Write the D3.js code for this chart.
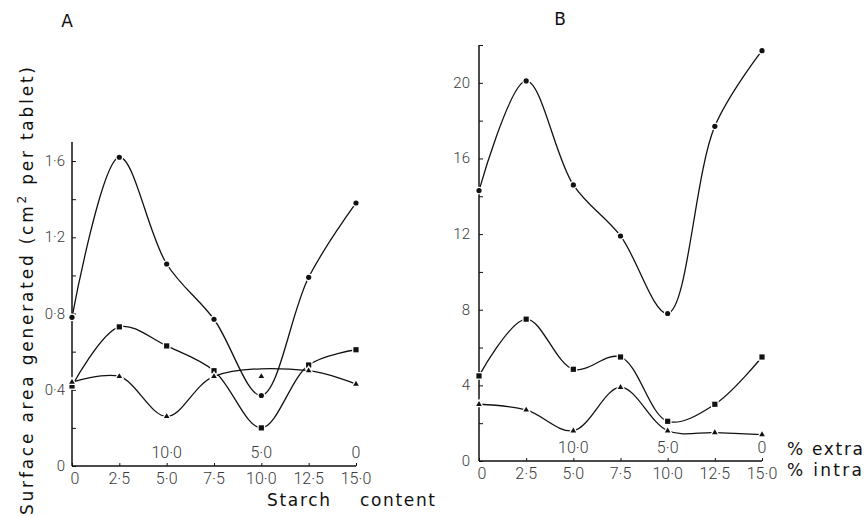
<!DOCTYPE html>
<html><head><meta charset="utf-8">
<script src="https://cdn.jsdelivr.net/npm/d3@7"></script>
<style>
body{margin:0;background:#fff;}
svg{display:block;}
.tick-label{font-family:Roboto,"DejaVu Sans",sans-serif;font-weight:300;fill:#3a3a3a;}
.title{font-family:"DejaVu Sans",sans-serif;font-size:17px;fill:#111;}
.axis-title{font-family:"DejaVu Sans",sans-serif;font-size:17px;fill:#111;}
</style></head>
<body>
<script>
// ---- data ----
const starchIntra = [0, 2.5, 5, 7.5, 10, 12.5, 15];
const extraLabels = [{x: 5, label: "10·0"}, {x: 10, label: "5·0"}, {x: 15, label: "0"}];
const xTickLabels = ["0", "2·5", "5·0", "7·5", "10·0", "12·5", "15·0"];

const A_circles   = [0.78, 1.62, 1.06, 0.77, 0.37, 0.99, 1.38];
const A_squares   = [0.42, 0.73, 0.63, 0.50, 0.20, 0.53, 0.61];
const A_triangles = [0.44, 0.47, 0.26, 0.47, 0.47, 0.50, 0.43];
// the drawn curve for A triangles passes above the point at 10·0
const A_triangleOffCurve = [4];
const A_yTicks = [0, 0.4, 0.8, 1.2, 1.6];
const A_yTickLabels = ["0", "0·4", "0·8", "1·2", "1·6"];
const A_yMinor = [0.2, 0.6, 1.0, 1.4];

const B_circles   = [14.3, 20.1, 14.6, 11.9, 7.8, 17.7, 21.7];
const B_squares   = [4.5, 7.5, 4.85, 5.5, 2.1, 3.0, 5.5];
const B_triangles = [3.0, 2.7, 1.6, 3.9, 1.6, 1.5, 1.4];
const B_yTicks = [0, 4, 8, 12, 16, 20];
const B_yTickLabels = ["0", "4", "8", "12", "16", "20"];
const B_yMinor = [2, 6, 10, 14, 18, 22];

const W = 865, H = 516;
const svg = d3.select("body").append("svg").attr("width", W).attr("height", H);

function panel(cfg) {
  const x = d3.scaleLinear().domain([0, 15]).range(cfg.xRange);
  const y = d3.scaleLinear().domain(cfg.yDomain).range(cfg.yRange);
  const g = svg.append("g");

  // y axis (ticks inward)
  const yAxis = d3.axisRight(y).tickValues(cfg.yTicks.concat(cfg.yMinor)).tickSize(4).tickFormat("");
  const ya = g.append("g").attr("transform", `translate(${x(0)},0)`).call(yAxis);
  ya.select(".domain").attr("d", `M0,${y(cfg.yDomain[1])}V${y(0)}`).attr("stroke", "#111").attr("stroke-width", 1.5);
  ya.selectAll(".tick line").attr("stroke", "#111").attr("stroke-width", 1);
  g.selectAll(".ylab").data(cfg.yTicks).join("text")
    .attr("class", "tick-label").attr("font-size", 15)
    .attr("x", x(0) - cfg.yLabelGap).attr("y", d => y(d) + 5)
    .attr("text-anchor", "end")
    .text((d, i) => cfg.yTickLabels[i]);

  // x axis (ticks inward)
  const xAxis = d3.axisTop(x).tickValues(starchIntra).tickSize(3).tickFormat("");
  const xa = g.append("g").attr("transform", `translate(0,${y(0)})`).call(xAxis);
  xa.select(".domain").attr("d", `M${x(0)},0H${x(15)}`).attr("stroke", "#111").attr("stroke-width", 1.5);
  xa.selectAll(".tick line").attr("stroke", "#111");
  g.selectAll(".xlab").data(starchIntra).join("text")
    .attr("class", "tick-label").attr("font-size", 16)
    .attr("x", d => x(d) + (d === 0 ? 3 : 0)).attr("y", y(0) + 18)
    .attr("text-anchor", "middle")
    .text((d, i) => xTickLabels[i]);
  g.selectAll(".xlab2").data(extraLabels).join("text")
    .attr("class", "tick-label").attr("font-size", 16)
    .attr("x", d => x(d.x)).attr("y", y(0) - 8)
    .attr("text-anchor", "middle")
    .text(d => d.label);

  const line = d3.line().x(d => x(d[0])).y(d => y(d[1])).curve(d3.curveCatmullRom.alpha(0.5));
  [[cfg.circles, []], [cfg.squares, []], [cfg.triangles, cfg.triOff || []]].forEach(([s, off]) => {
    const pts = s.map((v, i) => [starchIntra[i], v]).filter((p, i) => !off.includes(i));
    g.append("path").attr("d", line(pts)).attr("fill", "none").attr("stroke", "#111").attr("stroke-width", 1.3);
  });
  function applyHalo(sel) { return sel.attr("stroke", "#fff").attr("stroke-width", 2.5).attr("paint-order", "stroke"); }
  applyHalo(g.selectAll(".c").data(cfg.circles).join("circle")
    .attr("cx", (d, i) => x(starchIntra[i])).attr("cy", d => y(d)).attr("r", 2.6).attr("fill", "#111"));
  applyHalo(g.selectAll(".s").data(cfg.squares).join("rect")
    .attr("x", (d, i) => x(starchIntra[i]) - 2.6).attr("y", d => y(d) - 2.6)
    .attr("width", 5.2).attr("height", 5.2).attr("fill", "#111"));
  applyHalo(g.selectAll(".t").data(cfg.triangles).join("path")
    .attr("d", d3.symbol().type(d3.symbolTriangle).size(14))
    .attr("transform", (d, i) => `translate(${x(starchIntra[i])},${y(d)})`).attr("fill", "#111"));

  svg.append("text").attr("class", "title").attr("x", cfg.titlePos[0]).attr("y", cfg.titlePos[1])
    .attr("text-anchor", "middle").text(cfg.title);
  return {x, y};
}

panel({
  title: "A", titlePos: [67, 27],
  xRange: [72, 356], yDomain: [0, 1.7], yRange: [466, 142],
  yTicks: A_yTicks, yTickLabels: A_yTickLabels, yMinor: A_yMinor, yLabelGap: 7,
  circles: A_circles, squares: A_squares, triangles: A_triangles, triOff: A_triangleOffCurve
});
panel({
  title: "B", titlePos: [560, 25],
  xRange: [479, 762], yDomain: [0, 22], yRange: [461, 45],
  yTicks: B_yTicks, yTickLabels: B_yTickLabels, yMinor: B_yMinor, yLabelGap: 9,
  circles: B_circles, squares: B_squares, triangles: B_triangles
});

// axis titles
const yt = svg.append("text").attr("class", "axis-title").attr("font-size", 18)
  .attr("transform", "translate(33,515) rotate(-90)")
  .attr("textLength", 448).attr("lengthAdjust", "spacing");
yt.append("tspan").text("Surface  area  generated  (cm");
yt.append("tspan").attr("baseline-shift", "super").attr("font-size", "12px").text("2");
yt.append("tspan").text(" per tablet)");

svg.append("text").attr("class", "axis-title").attr("font-size", 18).attr("x", 267).attr("y", 506)
  .attr("textLength", 63).attr("lengthAdjust", "spacing").text("Starch");
svg.append("text").attr("class", "axis-title").attr("font-size", 18).attr("x", 360).attr("y", 506)
  .attr("textLength", 75).attr("lengthAdjust", "spacing").text("content");

svg.append("text").attr("class", "axis-title").attr("font-size", 18).attr("x", 787).attr("y", 455)
  .attr("textLength", 76).attr("lengthAdjust", "spacing").text("% extra");
svg.append("text").attr("class", "axis-title").attr("font-size", 18).attr("x", 787).attr("y", 476)
  .attr("textLength", 75).attr("lengthAdjust", "spacing").text("% intra");
</script>
</body></html>
